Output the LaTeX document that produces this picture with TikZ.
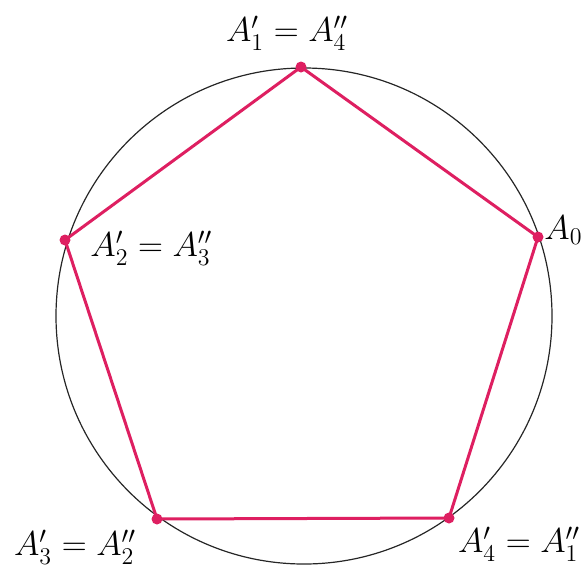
\documentclass[tikz,border=0pt]{standalone}
\usepackage{amsmath}
\usepackage{xcolor}
\definecolor{polyred}{rgb}{0.87,0.12,0.38}
\usepackage{tikz}
\usetikzlibrary{positioning}

\begin{document}
\begin{tikzpicture}[x=0.5pt, y=-0.5pt,
	dot/.style={circle, fill=polyred, inner sep=0pt, minimum size=5.5pt},
	side/.style={draw=polyred, line width=1.5pt, line join=round},
	rim/.style={draw=black!85, line width=0.6pt},
	lbl/.style={font=\fontsize{17.5}{20}\selectfont, inner sep=1pt}
	]
	\useasboundingbox (0,0) rectangle (582,568);
	\node[draw=none, minimum size=0pt, inner sep=0pt] (ctr) at (304,316) {};
	\draw[rim] (ctr) circle[radius=248];

	\node[dot] (a1) at (301,67) {};
	\node[dot] (a0) at (538,237) {};
	\node[dot] (a2) at (65,240) {};
	\node[dot] (a3) at (157,519) {};
	\node[dot] (a4) at (449,518) {};

	\draw[side] (a0.center) -- (a1.center) -- (a2.center) -- (a3.center) -- (a4.center) -- cycle;

	\node[lbl] (l1) at (287,33) {$A_1' = A_4''$};
	\node[lbl, anchor=west] (l2) at (88,248) {$A_2' = A_3''$};
	\node[lbl, anchor=west] (l0) at (542,230) {$A_0$};
	\node[lbl] (l3) at (75,547) {$A_3' = A_2''$};
	\node[lbl] (l4) at (519,544) {$A_4' = A_1''$};
\end{tikzpicture}
\end{document}
